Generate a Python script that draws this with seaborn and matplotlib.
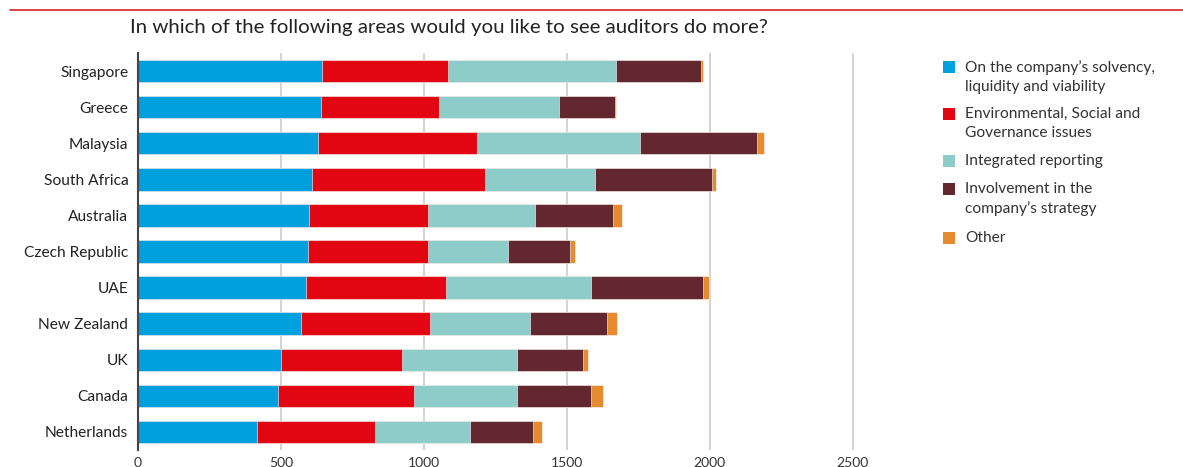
import numpy as np
import pandas as pd
import matplotlib
matplotlib.use("Agg")
import matplotlib.pyplot as plt
from matplotlib.patches import Rectangle
import seaborn as sns

countries = ["Singapore", "Greece", "Malaysia", "South Africa", "Australia",
             "Czech Republic", "UAE", "New Zealand", "UK", "Canada", "Netherlands"]
solvency = [643, 639, 628, 608, 597, 593, 587, 571, 501, 489, 417]
esg = [441, 414, 559, 606, 418, 422, 491, 450, 422, 476, 412]
integrated = [588, 418, 569, 386, 373, 279, 507, 351, 403, 361, 332]
strategy = [296, 197, 409, 408, 273, 217, 391, 269, 232, 259, 221]
other = [9, 5, 25, 13, 31, 16, 21, 35, 16, 41, 31]

series_names = ["On the company\u2019s solvency,\nliquidity and viability",
                "Environmental, Social and\nGovernance issues",
                "Integrated reporting",
                "Involvement in the\ncompany\u2019s strategy",
                "Other"]
colors = ["#00a0df", "#e20613", "#8dccc9", "#62272f", "#e38b2e"]
xticks = [0, 500, 1000, 1500, 2000, 2500]

sns.set_theme(style="white")
plt.rcParams["font.family"] = ["Lato", "DejaVu Sans"]

fig = plt.figure(figsize=(11.83, 4.67), dpi=100)
ax = fig.add_axes([138 / 1183, 1 - 450 / 467, (867 - 138) / 1183, (450 - 53) / 467])

vals = np.array([solvency, esg, integrated, strategy, other], dtype=float)
cum = np.cumsum(vals, axis=0)
df = pd.DataFrame({"country": countries})
for i in range(len(series_names) - 1, -1, -1):
    df["v"] = cum[i]
    sns.barplot(data=df, x="v", y="country", orient="h", color=colors[i],
                width=0.62, saturation=1, edgecolor="white", linewidth=0.4,
                ax=ax, zorder=3)

ax.set_xlim(0, 2550)
ax.set_ylim(10.5, -0.5)
ax.set_xticks(xticks)
ax.set_xticklabels([str(t) for t in xticks])
ax.set_xlabel("")
ax.set_ylabel("")
ax.grid(False)
for t in xticks[1:]:
    ax.axvline(t, color="#d0d0d0", lw=1.3, zorder=1)
for s in ["top", "right", "bottom"]:
    ax.spines[s].set_visible(False)
ax.spines["left"].set_color("#444444")
ax.spines["left"].set_linewidth(1.5)
ax.spines["left"].set_zorder(5)
ax.tick_params(axis="x", length=4, color="#d0d0d0", pad=1, labelsize=10, labelcolor="#333333")
ax.tick_params(axis="y", length=0, pad=7, labelsize=11.2, labelcolor="#222222")

# title and top rule
fig.add_artist(plt.Line2D([10 / 1183, 1], [1 - 10 / 467] * 2, color="#e03039", lw=1.3))
fig.text(130 / 1183, 1 - 28 / 467, "In which of the following areas would you like to see auditors do more?",
         fontsize=14.7, color="#222222", va="center", ha="left")

# legend
leg_y = [67, 114, 161, 189, 238]
for name, c, y in zip(series_names, colors, leg_y):
    fig.patches.append(Rectangle((943 / 1183, 1 - (y + 6) / 467), 12 / 1183, 12 / 467,
                                 transform=fig.transFigure, facecolor=c, edgecolor="none"))
    fig.text(965 / 1183, 1 - (y - 7) / 467, name, fontsize=11.2, color="#333333",
             va="top", ha="left", linespacing=1.45)

fig.savefig("out.png", dpi=100)
